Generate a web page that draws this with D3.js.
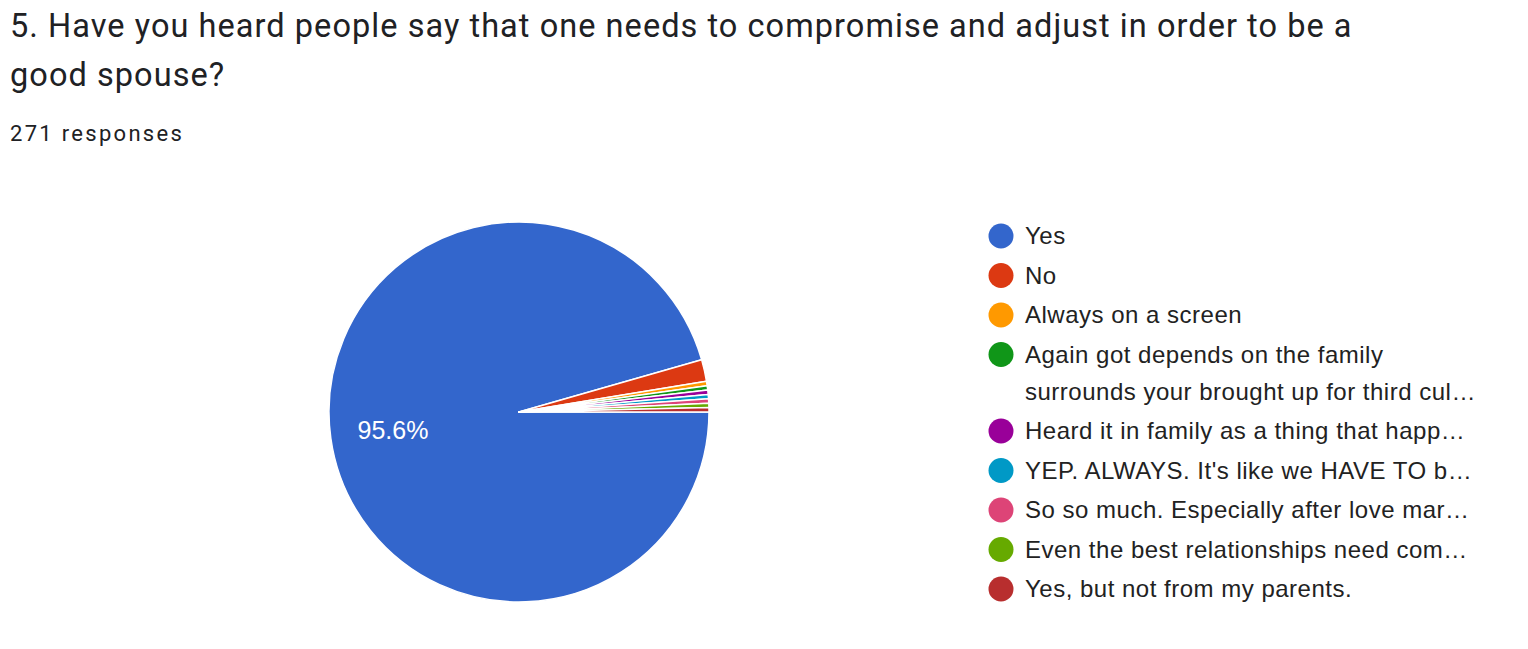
<!DOCTYPE html>
<html><head><meta charset="utf-8">
<script src="https://cdn.jsdelivr.net/npm/d3@7"></script>
<style>
html,body{margin:0;padding:0;background:#fff;}
svg{display:block;}
</style></head>
<body>
<svg id="chart" width="1528" height="649"></svg>
<script>
const titleLines = ["5. Have you heard people say that one needs to compromise and adjust in order to be a", "good spouse?"];
const subtitle = "271 responses";
const categories = ["Yes", "No", "Always on a screen", "Again got depends on the family surrounds your brought up for third cul\u2026", "Heard it in family as a thing that happ\u2026", "YEP. ALWAYS. It's like we HAVE TO b\u2026", "So so much. Especially after love mar\u2026", "Even the best relationships need com\u2026", "Yes, but not from my parents."];
const legendLines = [["Yes"], ["No"], ["Always on a screen"], ["Again got depends on the family", "surrounds your brought up for third cul\u2026"], ["Heard it in family as a thing that happ\u2026"], ["YEP. ALWAYS. It's like we HAVE TO b\u2026"], ["So so much. Especially after love mar\u2026"], ["Even the best relationships need com\u2026"], ["Yes, but not from my parents."]];
const values = [259, 5, 1, 1, 1, 1, 1, 1, 1];
const colors = ["#3366cc", "#dc3912", "#ff9900", "#109618", "#990099", "#0099c6", "#dd4477", "#66aa00", "#b82e2e"];

const svg = d3.select("#chart");
svg.append("g").selectAll("text").data(titleLines).join("text")
  .attr("x", 10).attr("y", (d, i) => 37 + i * 49)
  .attr("font-family", "Roboto, sans-serif").attr("font-size", 32.5).attr("fill", "#202124")
  .attr("letter-spacing", 1.05)
  .text(d => d);
svg.append("text").attr("x", 10).attr("y", 141)
  .attr("font-family", "Roboto, sans-serif").attr("font-size", 22).attr("fill", "#202124")
  .attr("letter-spacing", 2.3)
  .text(subtitle);

const cx = 519, cy = 412, r = 190;
const data = categories.map((c, i) => ({name: c, value: values[i], color: colors[i]}));
const total = d3.sum(values);
const pie = d3.pie().value(d => d.value).sort(null)
  .startAngle(Math.PI / 2).endAngle(Math.PI / 2 + 2 * Math.PI);
const arcs = pie(data);
const arc = d3.arc().innerRadius(0).outerRadius(r);
const g = svg.append("g").attr("transform", `translate(${cx},${cy})`);
g.selectAll("path").data(arcs).join("path")
  .attr("d", arc).attr("fill", d => d.data.color)
  .attr("stroke", "#fff").attr("stroke-width", 1.5).attr("stroke-linejoin", "round");
const labelArc = d3.arc().innerRadius(r * 0.67).outerRadius(r * 0.67);
g.selectAll("text").data(arcs.filter(d => d.data.value / total > 0.05)).join("text")
  .attr("transform", d => `translate(${labelArc.centroid(d)})`)
  .attr("text-anchor", "middle").attr("dy", "0.36em")
  .attr("font-family", "Liberation Sans, Arial, sans-serif").attr("font-size", 25).attr("fill", "#fff")
  .text(d => (d.data.value / total * 100).toFixed(1) + "%");

const lg = svg.append("g");
let y = 236;
legendLines.forEach((lines, i) => {
  const item = lg.append("g");
  item.append("circle").attr("cx", 1001).attr("cy", y).attr("r", 12.5).attr("fill", colors[i]);
  lines.forEach((t, j) => {
    item.append("text").attr("x", 1025).attr("y", y + j * 37).attr("dy", "0.35em")
      .attr("font-family", "Liberation Sans, Arial, sans-serif").attr("font-size", 24).attr("fill", "#222")
      .attr("letter-spacing", 0.5)
      .text(t);
  });
  y += 39.5 + (lines.length - 1) * 37;
});
</script>
</body></html>
